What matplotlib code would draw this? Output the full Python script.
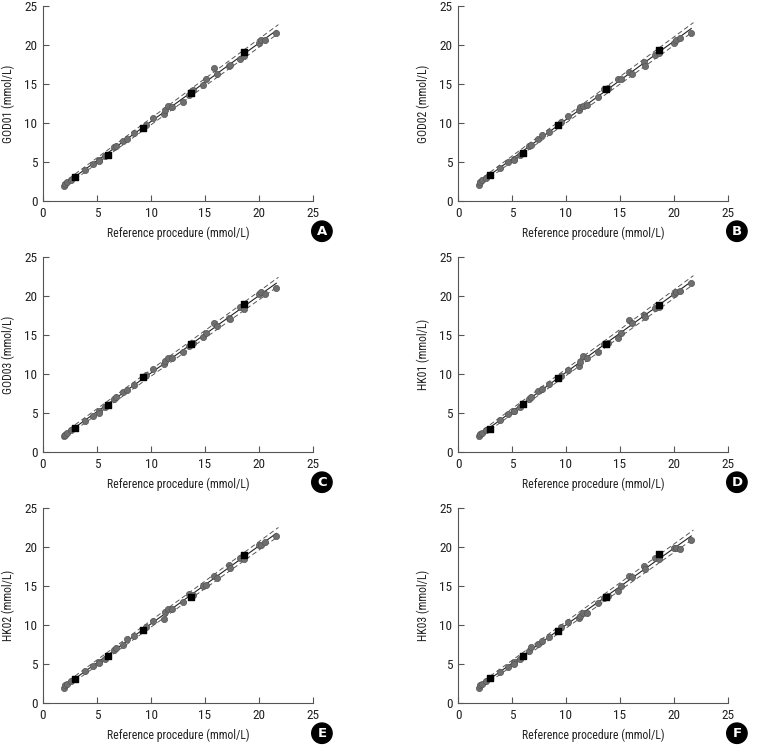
import numpy as np
import matplotlib.pyplot as plt
from matplotlib import font_manager

# prefer a condensed face, like the original figure
fonts = font_manager.fontManager.ttflist
names = {f.name for f in fonts}
fam = None
for cand in ['Roboto Condensed', 'Liberation Sans Narrow', 'Open Sans Condensed',
             'DejaVu Sans Condensed', 'Noto Sans Condensed']:
    if cand in names:
        fam = cand
        break
stretch = 'normal'
if fam is None:
    cond = [f for f in fonts if f.stretch in ('condensed', 'semi-condensed', 500 - 125)
            and f.name in ('Roboto', 'Noto Sans', 'Open Sans', 'DejaVu Sans', 'Inter', 'Lato')]
    if cond:
        fam = cond[0].name
        stretch = cond[0].stretch
    else:
        fam = 'Roboto'
plt.rcParams['font.family'] = [fam, 'DejaVu Sans']
plt.rcParams['font.stretch'] = stretch

# reference procedure values (shared by all panels)
x_ref = [1.9, 2.0, 2.2, 2.6, 3.9, 4.6, 5.2, 5.2, 5.7, 6.6, 6.8, 7.4, 7.8, 8.4,
         9.5, 10.2, 11.2, 11.3, 11.6, 11.9, 13.0, 13.5, 13.9, 14.8, 15.1, 15.8,
         16.1, 17.2, 17.3, 18.2, 18.6, 20.0, 20.2, 20.6, 21.6]
x_ctrl = [3.0, 6.0, 9.3, 13.7, 18.6]

labels = ['GOD01', 'GOD02', 'GOD03', 'HK01', 'HK02', 'HK03']
letters = ['A', 'B', 'C', 'D', 'E', 'F']

y_god01 = [1.97, 2.2, 2.5, 2.7, 4.0, 4.8, 5.3, 5.1, 5.8, 6.9, 7.1, 7.7, 8.0, 8.7,
           9.7, 10.6, 11.2, 11.7, 12.2, 12.0, 12.7, 13.6, 14.2, 14.9, 15.7, 17.0,
           16.3, 17.3, 17.4, 18.2, 18.6, 20.2, 20.6, 20.7, 21.6]
y_god02 = [2.06, 2.4, 2.7, 2.9, 4.2, 5.0, 5.4, 5.2, 5.9, 7.0, 7.2, 8.0, 8.4, 8.9,
           10.1, 10.85, 11.7, 12.0, 12.2, 12.3, 13.3, 14.3, 14.5, 15.65, 15.7, 16.6,
           16.3, 17.8, 17.3, 18.7, 19.0, 20.3, 20.7, 20.9, 21.6]
y_god03 = [2.0, 2.2, 2.5, 2.8, 4.0, 4.6, 5.2, 5.0, 5.8, 6.8, 7.0, 7.7, 8.0, 8.6,
           9.9, 10.6, 11.3, 11.7, 12.0, 12.1, 12.8, 13.6, 14.0, 14.7, 15.3, 16.6,
           16.1, 17.2, 17.0, 18.6, 18.3, 20.3, 20.5, 20.2, 21.0]
y_hk01 = [2.0, 2.3, 2.5, 2.8, 4.1, 4.9, 5.3, 5.2, 5.8, 6.8, 7.1, 7.8, 8.1, 8.7,
          9.8, 10.5, 11.0, 11.6, 12.3, 12.0, 12.8, 13.8, 14.0, 14.6, 15.3, 16.9,
          16.6, 17.6, 17.3, 18.5, 18.6, 20.3, 20.5, 20.7, 21.7]
y_hk02 = [1.93, 2.27, 2.5, 2.8, 4.1, 4.8, 5.3, 5.1, 5.7, 6.8, 7.1, 7.5, 8.2, 8.6,
          9.8, 10.5, 10.8, 11.7, 12.0, 12.0, 12.95, 14.0, 13.85, 15.0, 15.1, 16.3,
          16.0, 17.7, 17.3, 18.65, 18.5, 20.3, 20.3, 20.7, 21.4]
y_hk03 = [1.93, 2.27, 2.5, 2.8, 3.95, 4.6, 5.2, 5.0, 5.7, 6.65, 7.2, 7.6, 7.9, 8.5,
          9.7, 10.4, 10.85, 11.2, 11.6, 11.6, 12.8, 13.5, 13.7, 14.3, 15.0, 16.3,
          16.1, 17.6, 17.2, 18.65, 18.45, 19.9, 19.9, 19.8, 20.9]

c_god01 = [3.1, 5.9, 9.4, 13.8, 19.1]
c_god02 = [3.3, 6.2, 9.8, 14.4, 19.3]
c_god03 = [3.1, 6.0, 9.6, 13.8, 19.0]
c_hk01 = [3.0, 6.1, 9.5, 13.9, 18.9]
c_hk02 = [3.1, 6.0, 9.4, 13.6, 19.0]
c_hk03 = [3.2, 6.0, 9.2, 13.6, 19.1]

ys = [y_god01, y_god02, y_god03, y_hk01, y_hk02, y_hk03]
cs = [c_god01, c_god02, c_god03, c_hk01, c_hk02, c_hk03]

W, H = 774, 747
fig = plt.figure(figsize=(W / 100, H / 100), dpi=100)

lefts = [43, 458]
bottoms = [201, 452, 703]
aw, ah = 270, 195

for i in range(6):
    row, col = i // 2, i % 2
    l, b = lefts[col], bottoms[row]
    ax = fig.add_axes([l / W, (H - b) / H, aw / W, ah / H])

    xa = np.array(x_ref + x_ctrl)
    ya = np.array(ys[i] + cs[i])
    k, c0 = np.polyfit(xa, ya, 1)
    xs = np.array([1.9, 21.6])
    xd = np.array([1.8, 21.8])
    ax.plot(xs, k * xs + c0, color='#222222', lw=0.8, zorder=1)
    band = 0.3 + 0.012 * xd
    ax.plot(xd, k * xd + c0 + band, color='#555555', lw=0.7, ls=(0, (5, 3)), zorder=1)
    ax.plot(xd, k * xd + c0 - band, color='#555555', lw=0.7, ls=(0, (5, 3)), zorder=1)

    ax.scatter(x_ref, ys[i], s=20, c='#6e6e6e', edgecolors='#555555',
               linewidths=0.5, zorder=3)
    ax.scatter(x_ctrl, cs[i], s=15, marker='s', c='black', zorder=4)

    ax.set_xlim(0, 25)
    ax.set_ylim(0, 25)
    ax.set_xticks(range(0, 26, 5))
    ax.set_yticks(range(0, 26, 5))
    for s in ['top', 'right']:
        ax.spines[s].set_visible(False)
    for s in ['left', 'bottom']:
        ax.spines[s].set_color('#555555')
        ax.spines[s].set_linewidth(0.8)
    ax.tick_params(direction='in', length=4, width=0.8, color='#555555',
                   labelsize=9.5, labelcolor='#222222', pad=4)
    ax.set_xlabel('Reference procedure (mmol/L)', fontsize=8.5, color='#222222', labelpad=5)
    ax.set_ylabel(labels[i] + ' (mmol/L)', fontsize=8.5, color='#222222', labelpad=7)
    ax.text(1.033, -0.155, letters[i], transform=ax.transAxes, ha='center', va='center',
            fontsize=9.5, fontweight='bold', color='white', family='DejaVu Sans',
            bbox=dict(boxstyle='circle,pad=0.28', fc='black', ec='black'))

fig.savefig('out.png', dpi=100)
